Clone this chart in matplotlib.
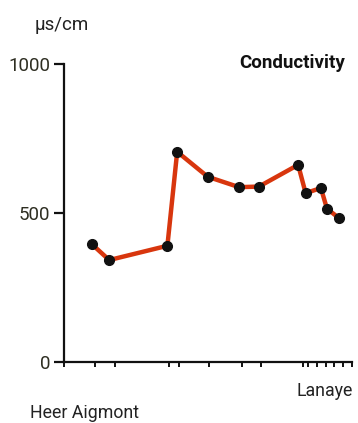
import matplotlib
matplotlib.use("Agg")
import matplotlib.pyplot as plt

# Sampling stations along the river (distance units from Heer Aigmont)
station_pos = [9.6, 15.7, 35.9, 39.3, 49.9, 60.8, 67.7, 81.3, 83.9, 89.2, 91.3, 95.6]
conductivity = [395, 341, 389, 705, 621, 586, 588, 661, 566, 583, 514, 481]

# Kilometre markers along the x axis
x_ticks = [0, 10.8, 17.7, 36.5, 39.9, 50.3, 61.8, 68.4, 83.0, 84.7, 87.8, 91.0, 93.8, 96.9, 100]
y_ticks = [0, 500, 1000]
y_tick_labels = ["0", "500", "1000"]

unit_label = "µs/cm"
title = "Conductivity"
start_label = "Heer Aigmont"
end_label = "Lanaye"

plt.rcParams["font.family"] = ["Roboto", "DejaVu Sans"]
fs = 13.5

W, H = 358, 423
fig = plt.figure(figsize=(W / 100, H / 100), dpi=100)
fig.patch.set_facecolor("white")

left, right = 64, 352
top, bottom = 64, 361.5
ax = fig.add_axes([left / W, (H - bottom) / H, (right - left) / W, (bottom - top) / H])
ax.set_facecolor("none")

ax.plot(station_pos, conductivity, color="#d8360e", lw=3.2, zorder=2,
        solid_joinstyle="round", solid_capstyle="round")
ax.plot(station_pos, conductivity, "o", color="#111111", ms=7, zorder=3)

ax.set_xlim(0, 100)
ax.set_ylim(0, 1000)

for s in ["top", "right"]:
    ax.spines[s].set_visible(False)
for s in ["left", "bottom"]:
    ax.spines[s].set_linewidth(1.6)
    ax.spines[s].set_color("#111111")

ax.set_yticks(y_ticks)
ax.set_yticklabels(y_tick_labels)
ax.tick_params(axis="y", direction="out", length=7, width=1.6, pad=3,
               labelsize=fs, labelcolor="#2e2e22", color="#111111")
ax.set_xticks(x_ticks)
ax.set_xticklabels([])
ax.tick_params(axis="x", direction="out", length=3.5, width=1.4, color="#111111")

def px_text(x, y, s, color="#222222", ha="left", size=fs, **kw):
    fig.text(x / W, (H - y) / H, s, va="baseline", ha=ha, fontsize=size,
             color=color, **kw)

px_text(35, 30, unit_label)
px_text(239, 67.5, title, fontweight="bold", color="#111111")
px_text(30, 418, start_label, size=12.8)
px_text(353, 396, end_label, ha="right", size=12.8)

fig.savefig("out.png", dpi=100, facecolor="white")
